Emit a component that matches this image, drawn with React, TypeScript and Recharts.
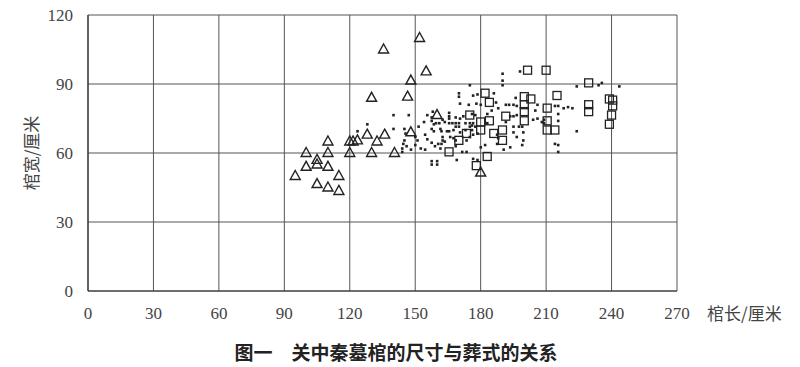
import { CartesianGrid, Scatter, ScatterChart, XAxis, YAxis } from "recharts";

const X_TICKS = [0, 30, 60, 90, 120, 150, 180, 210, 240, 270];
const Y_TICKS = [0, 30, 60, 90, 120];

// 三角形
const TRIANGLES: [number, number][] = [
  [95, 50], [100, 60], [100, 54], [105, 57], [105, 55], [105, 46.5], [110, 65], [110, 60],
  [110, 54], [110, 45], [115, 50], [115, 43.5], [120, 65], [120, 60], [121.5, 65], [123.5, 65.5],
  [128, 68], [130, 60], [130, 84], [132.5, 65], [136, 68], [135.5, 105], [140.5, 60], [146.5, 84.5],
  [148, 69], [148, 91.5], [152, 110], [155, 95.5], [160, 76.5], [180, 51.5],
];

// 方形
const SQUARES: [number, number][] = [
  [165.5, 60.5], [170, 65.5], [173.5, 68.5], [175, 76.5], [178, 54.5], [180, 73.5], [180, 70],
  [182, 86], [183, 58.5], [184, 82], [184, 74], [186, 68.5], [190, 70], [190, 65.5], [191.5, 76],
  [200, 84.5], [203, 83.5], [200, 81], [200, 78], [200, 74], [201.5, 96], [210, 96], [210.5, 79.5],
  [210.5, 74], [210.5, 70], [214, 70], [215, 85], [229.5, 90.5], [229.5, 81], [229.5, 78],
  [239, 83.5], [240.5, 83], [240.5, 80.5], [240, 76.5], [239, 72.5],
];

// 小点
const DOTS: [number, number][] = [
  [123.5, 69.5], [128, 72.5], [140, 76.5], [147, 76.5], [140, 70.5], [145, 70.5], [145, 65.5],
  [144, 62], [144, 60.5], [146, 63], [150, 63.5], [154, 73.5], [154.5, 68], [155.5, 76.5],
  [157.5, 75.5], [157.5, 74], [158, 78], [157.5, 56.5], [157.5, 55], [160, 56.5], [160, 55],
  [170, 86], [170, 84.5], [176.5, 85], [170.5, 81.5], [174.5, 81], [178, 81.5], [165.5, 77.5],
  [165.5, 76], [165.5, 75], [151.5, 71.5], [162.5, 74.5], [163.5, 73.5], [168.5, 75.5], [170.5, 75],
  [172, 76], [158.5, 72.5], [159.5, 73], [161, 73], [165.5, 73], [167, 73], [168.5, 73], [170, 73],
  [173, 73], [175, 73], [176.5, 73], [145.5, 68.5], [157.5, 70.5], [158.5, 69.5], [161.5, 70.5],
  [162, 69.5], [162.5, 67], [162.5, 65.5], [163.5, 65], [164.5, 69.5], [165.5, 69.5], [167.5, 70],
  [168.5, 71.5], [170, 71.5], [170.5, 69], [173, 70], [175, 71.5], [166, 67], [167.5, 66.5],
  [168.5, 65.5], [173.5, 65.5], [175, 67], [144.5, 64], [150, 67], [151, 65.5], [155.5, 66],
  [157.5, 64.5], [160.5, 64], [162, 64], [148, 61.5], [152.5, 62], [154.5, 61.5], [159, 63],
  [161.5, 62], [168.5, 63], [171.5, 60.5], [173.5, 60.5], [169, 57], [176.5, 57.5], [178.5, 57],
  [190, 91.5], [190, 89.5], [190, 94.5], [178.5, 85.5], [186, 86], [180, 81], [187, 82],
  [188, 79.5], [191.5, 81], [193, 81], [195, 81], [196.5, 80.5], [206, 81], [205, 78.5], [176, 77],
  [177.5, 76.5], [183, 77], [185, 78.5], [193.5, 76], [195, 76], [196.5, 76.5], [191.5, 73.5],
  [206, 75], [208, 73.5], [209, 74.5], [176, 72], [177.5, 71.5], [183, 73], [195, 71.5],
  [197.5, 71.5], [199, 71.5], [176, 70], [176.5, 68], [178.5, 68.5], [195, 69], [199.5, 69],
  [196.5, 67], [187.5, 68], [188, 66.5], [180, 62.5], [182, 63.5], [187.5, 64], [199.5, 65.5],
  [199, 63.5], [193.5, 62.5], [190.5, 61.5], [175, 89.5], [198, 95.5], [196, 84],
  [224, 89], [234, 89.5], [235.5, 90.5], [243.5, 89], [214, 80.5], [215.5, 80.5], [218, 79.5],
  [220, 80], [222, 79.5], [215.5, 77], [209, 73], [215.5, 74], [224, 69.5], [214, 64],
  [215.5, 60.5], [204, 74.5], [215.5, 63.5],
];

const toPoints = (arr: [number, number][]) => arr.map(([x, y]) => ({ x, y }));

const INK = "#222";
const LINE = "#555";
const SERIF = "'Liberation Serif', 'DejaVu Serif', serif";
const TICK_FONT = { fill: "#444", fontSize: 17, fontFamily: SERIF, style: { fontFamily: SERIF } };

function Triangle(props: any) {
  const { cx, cy } = props;
  return (
    <path
      d={`M${cx},${cy - 5.5} L${cx + 5},${cy + 3.5} L${cx - 5},${cy + 3.5} Z`}
      fill="none"
      stroke={INK}
      strokeWidth={1.4}
    />
  );
}

function Square(props: any) {
  const { cx, cy } = props;
  return <rect x={cx - 4} y={cy - 4} width={8} height={8} fill="none" stroke={INK} strokeWidth={1.3} />;
}

function Dot(props: any) {
  const { cx, cy } = props;
  return <rect x={cx - 1.2} y={cy - 1.2} width={2.6} height={2.6} fill={INK} />;
}

export default function App() {
  return (
    <div style={{ position: "absolute", left: 0, top: 0, width: 800, height: 367, background: "#fff" }}>
      <ScatterChart width={800} height={367} margin={{ top: 15, right: 123, left: 0, bottom: 28 }}>
        <CartesianGrid stroke={LINE} strokeWidth={1} />
        <XAxis
          type="number"
          dataKey="x"
          domain={[0, 270]}
          ticks={X_TICKS}
          interval={0}
          height={48}
          tickLine={false}
          tickMargin={10}
          axisLine={{ stroke: "#333", strokeWidth: 1.2 }}
          tick={TICK_FONT}
          label={{
            value: "棺长/厘米",
            position: "right",
            offset: 30,
            dy: -1,
            style: { fill: "#444", fontSize: 17, fontFamily: "'Noto Sans CJK SC'" },
          }}
        />
        <YAxis
          type="number"
          dataKey="y"
          domain={[0, 120]}
          ticks={Y_TICKS}
          interval={0}
          width={88}
          tickLine={false}
          tickMargin={9}
          axisLine={{ stroke: "#333", strokeWidth: 1.2 }}
          tick={TICK_FONT}
          label={{
            value: "棺宽/厘米",
            angle: -90,
            position: "insideLeft",
            offset: 32,
            style: { fill: "#444", fontSize: 17, fontFamily: "'Noto Sans CJK SC'", textAnchor: "middle" },
          }}
        />
        <Scatter data={toPoints(DOTS)} shape={Dot} isAnimationActive={false} />
        <Scatter data={toPoints(TRIANGLES)} shape={Triangle} isAnimationActive={false} />
        <Scatter data={toPoints(SQUARES)} shape={Square} isAnimationActive={false} />
      </ScatterChart>
      <div
        style={{
          position: "absolute",
          left: 0,
          width: 792,
          top: 338,
          textAlign: "center",
          fontFamily: "'Noto Sans CJK SC'",
          fontWeight: 700,
          fontSize: 19,
          color: "#222",
          whiteSpace: "pre",
        }}
      >
        {"图一　关中秦墓棺的尺寸与葬式的关系"}
      </div>
    </div>
  );
}
